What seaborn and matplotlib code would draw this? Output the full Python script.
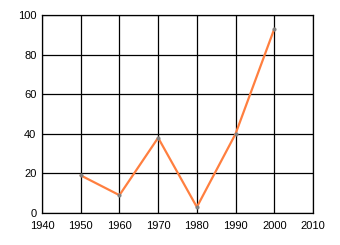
import matplotlib
matplotlib.use("Agg")
import matplotlib.pyplot as plt
import seaborn as sns
import pandas as pd

years = [1950, 1960, 1970, 1980, 1990, 2000]
values = [19, 9, 38, 3, 40, 93]
x_ticks = [1940, 1950, 1960, 1970, 1980, 1990, 2000, 2010]
y_ticks = [0, 20, 40, 60, 80, 100]

df = pd.DataFrame({"year": years, "value": values})

sns.set_style("white")
plt.rcParams['font.family'] = ['Liberation Sans', 'DejaVu Sans']

fig = plt.figure(figsize=(3.4, 2.45), dpi=100)
ax = fig.add_axes([42/340, 1-213/245, (313-42)/340, (213-15)/245])

sns.lineplot(data=df, x="year", y="value", ax=ax, color="#FF7F3F", linewidth=1.6,
             marker="o", markersize=2.2, markerfacecolor="#808080", markeredgecolor="#808080")

ax.set_xlim(1940, 2010)
ax.set_ylim(0, 100)
ax.set_xticks(x_ticks)
ax.set_yticks(y_ticks)
ax.set_xticklabels([str(t) for t in x_ticks])
ax.set_yticklabels([str(t) for t in y_ticks])
ax.grid(True, color="black", linewidth=0.9)
ax.set_axisbelow(True)
ax.set_xlabel("")
ax.set_ylabel("")
for s in ax.spines.values():
    s.set_color("black")
    s.set_linewidth(0.9)
ax.tick_params(axis="both", direction="out", length=3, width=0.9, color="black",
               labelsize=8.0, labelcolor="black")
ax.tick_params(axis="x", pad=2.5)
ax.tick_params(axis="y", pad=1)

fig.savefig("out.png", dpi=100)
